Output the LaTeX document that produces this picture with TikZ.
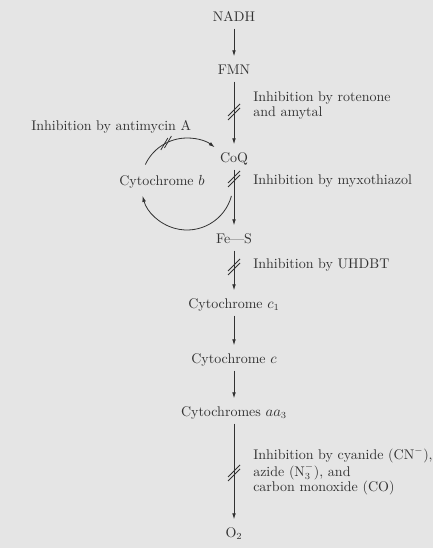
\documentclass[tikz,border=0pt]{standalone}
\usetikzlibrary{arrows.meta,calc}
\definecolor{bg}{RGB}{229,229,229}
\definecolor{ink}{RGB}{50,50,50}
\begin{document}
\begin{tikzpicture}[x=0.75pt,y=-0.75pt,
  lbl/.style={font=\fontsize{10.5}{12}\selectfont, text=ink, inner sep=3pt, text height=7.5pt, text depth=2.2pt},
  note/.style={font=\fontsize{10.5}{11.25}\selectfont, text=ink, anchor=west, align=left, inner sep=0pt},
  arr/.style={draw=ink, line width=0.6pt, -{Latex[length=4.5pt,width=2.8pt]}, shorten >=3pt},
  brk/.pic={\draw[ink, line width=0.6pt] (-6,4)--(6,-8) (-6,8)--(6,-4);},
  brkb/.pic={\draw[ink, line width=0.6pt] (-5.3,7)--(1.7,-5) (-1.7,5)--(5.3,-7);}
]
\fill[bg] (0,0) rectangle (433,548);
\useasboundingbox (0,0) rectangle (433,548);

% main chain
\node[lbl] (nadh) at (234,18) {NADH};
\node[lbl] (fmn)  at (234,71) {FMN};
\node[lbl] (coq)  at (234,159) {CoQ};
\node[lbl] (fes)  at (234,240) {Fe---S};
\node[lbl] (cc1)  at (234,305) {Cytochrome $c_1$};
\node[lbl] (cyc)  at (234,360) {Cytochrome $c$};
\node[lbl] (aa3)  at (234,413) {Cytochromes $aa_3$};
\node[lbl] (o2)   at (234,534) {O$_2$};

\draw[arr] (nadh) -- (fmn);
\draw[arr] (fmn) -- (coq);
\draw[arr] (coq) -- (fes);
\draw[arr] (fes) -- (cc1);
\draw[arr] (cc1) -- (cyc);
\draw[arr] (cyc) -- (aa3);
\draw[arr] (aa3) -- (o2);

% inhibition marks on the chain
\pic at (fmn.south |- 0,112) {brk};
\pic at (coq.south |- 0,179) {brk};
\pic at (fes.south |- 0,267) {brk};
\pic at (aa3.south |- 0,473) {brk};

% labels
\node[note] (rot) at (253,105.5) {Inhibition by rotenone\\and amytal};
\node[note] (myx) at (253,181) {Inhibition by myxothiazol};
\node[note] (uhd) at (253,265) {Inhibition by UHDBT};
\node[note, font=\fontsize{10.5}{9.6}\selectfont] (cyn) at (253,471.5) {Inhibition by cyanide (CN$^-$),\\azide (N$_3^-$), and\\carbon monoxide (CO)};
\node[note] (ant) at (31,127) {Inhibition by antimycin A};
\node[lbl] (cytb) at (162,182) {Cytochrome $b$};

% Q cycle loop
\coordinate (cc) at (187,184);
\draw[arr, shorten >=0pt] ($(cc)+(15:46)$) arc[start angle=15, end angle=165, radius=46];
\draw[arr, shorten >=0pt] ($(cc)+(205:46)$) arc[start angle=205, end angle=307, radius=46];
\pic at ($(cc)+(243:46)$) {brkb};
\end{tikzpicture}
\end{document}
